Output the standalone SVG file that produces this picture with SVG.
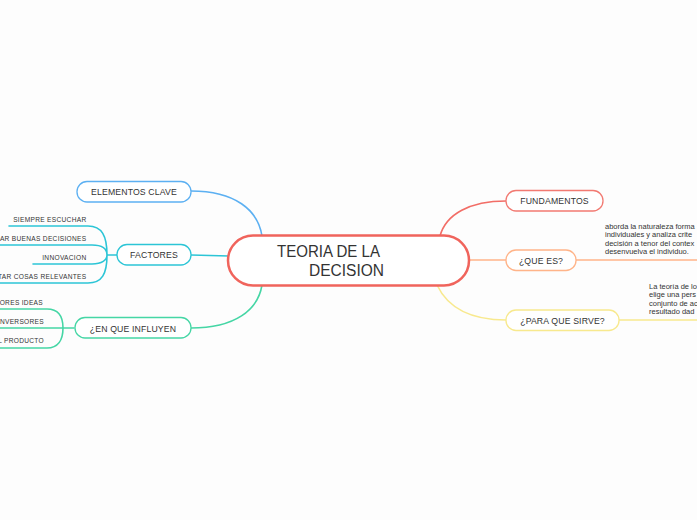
<svg xmlns="http://www.w3.org/2000/svg" width="697" height="520" viewBox="0 0 697 520">
<style>
.lbl{font-family:"Liberation Sans",Arial,sans-serif;font-size:8.7px;fill:#333;text-anchor:middle;letter-spacing:0.15px}
.sub{font-family:"Liberation Sans",Arial,sans-serif;font-size:6.6px;fill:#333;text-anchor:end;letter-spacing:0.3px}
.para{font-family:"Liberation Sans",Arial,sans-serif;font-size:7.5px;fill:#333}
.title{font-family:"Liberation Sans",Arial,sans-serif;font-size:16px;fill:#333}
.node{fill:#fff;stroke-width:1.3}
.c{fill:none;stroke-width:1.6;stroke-linecap:round}
</style>
<rect x="0" y="0" width="697" height="520" fill="#fdfdfd"/>
<g id="connectors">
  <path class="c" stroke="#5cb0f2" d="M191 191 C235 191 258 210 262 236"/>
  <path class="c" stroke="#2cc5d6" d="M191 255 L229 256"/>
  <path class="c" stroke="#45d6a5" d="M191 328 C235 328 258 310 262 285"/>
  <path class="c" stroke="#f26d66" d="M440 236 C446 214 470 201 506 201"/>
  <path class="c" stroke="#ffb489" d="M468 260 L506 260"/>
  <path class="c" stroke="#f8e98e" d="M437 285 C448 308 470 320 506 320"/>
  <path class="c" stroke="#ffb489" d="M576 260 L697 260"/>
  <path class="c" stroke="#f8e98e" d="M619 320 L697 320"/>
  <path class="c" stroke="#2cc5d6" d="M9 226 L88 226 C102 226 107 236 107 255 M0 245 L92 245 C102 245 107 249 107 255 M33 264 L92 264 C102 264 107 260 107 255 M0 283 L88 283 C102 283 107 274 107 255 M107 255 L117 255"/>
  <path class="c" stroke="#45d6a5" d="M0 309 L47 309 C58 309 63 316 63 328 M0 328 L74 328 M0 348 L47 348 C58 348 63 340 63 328"/>
</g>
<g id="central">
  <rect x="228" y="235.5" width="241" height="50" rx="25" fill="#fff" stroke="#f0645c" stroke-width="2.5"/>
  <text class="title" x="277" y="256.5" textLength="103" lengthAdjust="spacingAndGlyphs">TEORIA DE LA</text>
  <text class="title" x="309" y="275.5" textLength="75" lengthAdjust="spacingAndGlyphs">DECISION</text>
</g>
<g id="elementos-clave">
  <rect class="node" x="77" y="181.5" width="114" height="20.5" rx="10" stroke="#5cb0f2"/>
  <text class="lbl" x="134" y="194.5">ELEMENTOS CLAVE</text>
</g>
<g id="factores">
  <rect class="node" x="117" y="244.5" width="74" height="20.5" rx="10" stroke="#2cc5d6"/>
  <text class="lbl" x="154" y="257.5">FACTORES</text>
</g>
<g id="siempre-escuchar"><text class="sub" x="86.5" y="221.5">SIEMPRE ESCUCHAR</text></g>
<g id="buenas-decisiones"><text class="sub" x="86.5" y="240.5">AR BUENAS DECISIONES</text></g>
<g id="innovacion"><text class="sub" x="86.5" y="259.5">INNOVACION</text></g>
<g id="cosas-relevantes"><text class="sub" x="86.5" y="278.5">TAR COSAS RELEVANTES</text></g>
<g id="en-que-influyen">
  <rect class="node" x="75" y="317.5" width="116" height="20.5" rx="10" stroke="#45d6a5"/>
  <text class="lbl" x="133" y="331.5">¿EN QUE INFLUYEN</text>
</g>
<g id="ideas"><text class="sub" x="43" y="304.5">ORES IDEAS</text></g>
<g id="inversores"><text class="sub" x="44" y="324">INVERSORES</text></g>
<g id="producto"><text class="sub" x="44" y="343">L PRODUCTO</text></g>
<g id="fundamentos">
  <rect class="node" x="506" y="190.5" width="97" height="20.5" rx="10" stroke="#f27a72"/>
  <text class="lbl" x="554.5" y="203.5">FUNDAMENTOS</text>
</g>
<g id="que-es">
  <rect class="node" x="506" y="250" width="70" height="20.5" rx="10" stroke="#ffb489"/>
  <text class="lbl" x="541" y="263.5">¿QUE ES?</text>
</g>
<g id="que-es-texto">
  <text class="para" x="605" y="229">aborda la naturaleza forma</text>
  <text class="para" x="605" y="237.3">individuales y analiza crite</text>
  <text class="para" x="605" y="245.6">decisión a tenor del contex</text>
  <text class="para" x="605" y="254">desenvuelva el individuo.</text>
</g>
<g id="para-que-sirve">
  <rect class="node" x="506" y="310" width="113" height="20.5" rx="10" stroke="#f8e98e"/>
  <text class="lbl" x="562.5" y="323.5">¿PARA QUE SIRVE?</text>
</g>
<g id="para-que-sirve-texto">
  <text class="para" x="649" y="288.5">La teoría de lo</text>
  <text class="para" x="649" y="297">elige una pers</text>
  <text class="para" x="649" y="305.5">conjunto de ac</text>
  <text class="para" x="649" y="314">resultado dad</text>
</g>
</svg>
